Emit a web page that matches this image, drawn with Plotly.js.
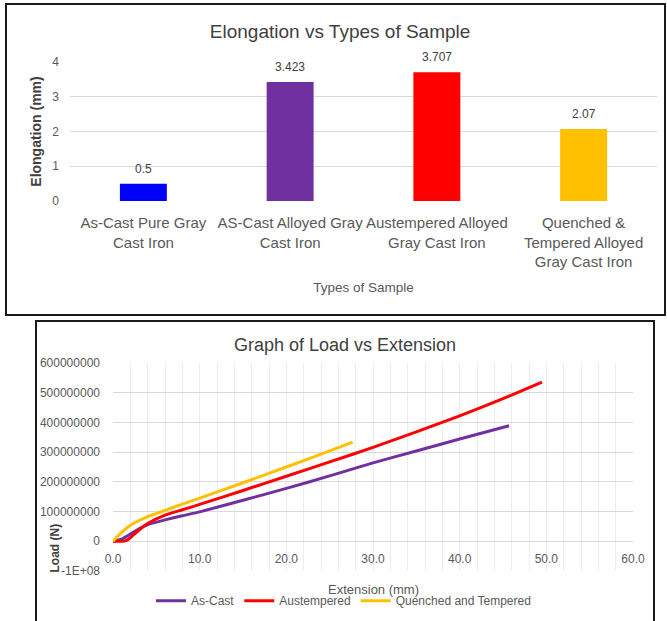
<!DOCTYPE html>
<html>
<head>
<meta charset="utf-8">
<script src="https://cdn.plot.ly/plotly-3.0.1.min.js"></script>
<style>
  html, body { margin:0; padding:0; background:#fff; width:667px; height:621px; overflow:hidden; }
  #box1 { position:absolute; left:5px; top:3px; width:661px; height:313px; border:2px solid #1a1a1a; box-sizing:border-box; }
  #box2 { position:absolute; left:35px; top:320px; width:620px; height:301px; border:2px solid #1a1a1a; border-bottom:none; box-sizing:border-box; }
</style>
</head>
<body>
<div id="box1"><div id="chart1"></div></div>
<div id="box2"><div id="chart2"></div></div>
<script>
// ---- Chart 1 data: Elongation vs Types of Sample ----
var sampleTypes = [
  'As-Cast Pure Gray<br>Cast Iron',
  'AS-Cast Alloyed Gray<br>Cast Iron',
  'Austempered Alloyed<br>Gray Cast Iron',
  'Quenched &amp;<br>Tempered Alloyed<br>Gray Cast Iron'
];
var elongation = [0.5, 3.423, 3.707, 2.07];
var barColors = ['#0000FF', '#7030A0', '#FF0000', '#FFC000'];

// ---- Chart 2 data: Load vs Extension ----
var asCastExt  = [0, 1, 2, 3, 4, 6, 8, 10, 15, 20, 25, 30, 35, 40, 45.7];
var asCastLoad = [0, 0.07e8, 0.24e8, 0.42e8, 0.56e8, 0.72e8, 0.86e8, 0.99e8, 1.38e8, 1.78e8, 2.2e8, 2.64e8, 3.04e8, 3.44e8, 3.89e8];

var austExt  = [0, 1, 1.5, 2, 2.5, 3, 4, 6, 8, 10, 15, 20, 25, 30, 35, 40, 45, 49.5];
var austLoad = [0, 0, 0.02e8, 0.12e8, 0.25e8, 0.38e8, 0.6e8, 0.88e8, 1.06e8, 1.24e8, 1.71e8, 2.19e8, 2.67e8, 3.16e8, 3.68e8, 4.22e8, 4.8e8, 5.36e8];

var qtExt  = [0, 0.5, 1, 2, 3, 4, 6, 8, 10, 15, 20, 25, 27.65];
var qtLoad = [0, 0.16e8, 0.3e8, 0.54e8, 0.7e8, 0.83e8, 1.04e8, 1.25e8, 1.45e8, 1.97e8, 2.5e8, 3.04e8, 3.34e8];

var seriesNames = ['As-Cast', 'Austempered', 'Quenched and Tempered'];
var seriesColors = ['#7030A0', '#FF0000', '#FFC000'];

var loadTickVals = [-1e8, 0, 1e8, 2e8, 3e8, 4e8, 5e8, 6e8];
var loadTickText = ['-1E+08', '0', '100000000', '200000000', '300000000', '400000000', '500000000', '600000000'];

var FONT = 'Liberation Sans, Arial, sans-serif';

// ---- Chart 1 ----
var barTrace = {
  type: 'bar',
  x: sampleTypes,
  y: elongation,
  marker: { color: barColors },
  hoverinfo: 'none'
};
var barLabels = sampleTypes.map(function (c, i) {
  return {
    x: c, y: elongation[i], xref: 'x', yref: 'y',
    text: String(elongation[i]), showarrow: false,
    yanchor: 'bottom', yshift: 6,
    font: { size: 12, color: '#404040' }
  };
});
var layout1 = {
  width: 657, height: 309,
  margin: { l: 63, r: 7, t: 57, b: 113, autoexpand: false },
  paper_bgcolor: '#fff', plot_bgcolor: '#fff',
  font: { family: FONT, color: '#595959', size: 12 },
  title: {
    text: 'Elongation vs Types of Sample',
    x: 0.507, xanchor: 'center', y: 0.916, yanchor: 'middle', yref: 'container',
    font: { size: 19, color: '#404040' }
  },
  xaxis: {
    type: 'category', ticks: '', showgrid: false, showline: false, zeroline: false,
    automargin: false,
    tickfont: { size: 15, color: '#595959' }, ticklabelstandoff: 11,
    title: { text: 'Types of Sample', font: { size: 13.5, color: '#595959' }, standoff: 13 }
  },
  yaxis: {
    range: [0, 4], dtick: 1, gridcolor: '#d9d9d9', zeroline: false, showline: false,
    automargin: false,
    tickfont: { size: 12, color: '#595959' }, ticklabelstandoff: 10,
    title: { text: 'Elongation (mm)', font: { size: 14, color: '#404040', weight: 'bold' }, standoff: 7 }
  },
  bargap: 0.68,
  showlegend: false,
  annotations: barLabels
};
Plotly.newPlot('chart1', [barTrace], layout1, { staticPlot: true, displayModeBar: false });

// ---- Chart 2 ----
var xs = [asCastExt, austExt, qtExt];
var ys = [asCastLoad, austLoad, qtLoad];
var lineTraces = seriesNames.map(function (n, i) {
  return {
    type: 'scatter', mode: 'lines', name: n,
    x: xs[i], y: ys[i],
    line: { color: seriesColors[i], width: 3, shape: 'spline', smoothing: 0.5 },
    hoverinfo: 'none'
  };
});
var layout2 = {
  width: 616, height: 299,
  margin: { l: 76, r: 20, t: 41, b: 50, autoexpand: false },
  paper_bgcolor: '#fff', plot_bgcolor: '#fff',
  font: { family: FONT, color: '#595959', size: 12 },
  title: {
    text: 'Graph of Load vs Extension',
    x: 0.5, xanchor: 'center', y: 0.923, yanchor: 'middle', yref: 'container',
    font: { size: 18, color: '#404040' }
  },
  xaxis: {
    range: [0, 60], dtick: 10, tickformat: '.1f',
    anchor: 'free', position: 1 / 7, automargin: false,
    showgrid: true, gridcolor: '#ececec',
    minor: { dtick: 2, showgrid: true, gridcolor: '#ececec' },
    zeroline: false, showline: false, ticks: '',
    tickfont: { size: 12, color: '#595959' }, ticklabelstandoff: 9
  },
  yaxis: {
    range: [-1e8, 6e8], tickvals: loadTickVals, ticktext: loadTickText,
    gridcolor: '#d9d9d9', zeroline: false, showline: false, ticks: '',
    automargin: false,
    tickfont: { size: 12, color: '#595959' }, ticklabelstandoff: 12
  },
  showlegend: true,
  legend: {
    orientation: 'h', xref: 'container', yref: 'container',
    x: 0.185, xanchor: 'left', y: 0.068, yanchor: 'middle',
    font: { size: 12, color: '#595959' }, bgcolor: 'rgba(0,0,0,0)'
  },
  annotations: [{
    text: 'Load (N)', textangle: -90, showarrow: false,
    xref: 'paper', yref: 'paper', x: -0.112, y: 0.112,
    xanchor: 'center', yanchor: 'middle',
    font: { size: 12, color: '#404040', weight: 'bold' }
  }, {
    text: 'Extension (mm)', showarrow: false,
    xref: 'paper', yref: 'paper', x: 0.5, y: -0.09,
    xanchor: 'center', yanchor: 'middle',
    font: { size: 13, color: '#595959' }
  }]
};
Plotly.newPlot('chart2', lineTraces, layout2, { staticPlot: true, displayModeBar: false });
</script>
</body>
</html>
